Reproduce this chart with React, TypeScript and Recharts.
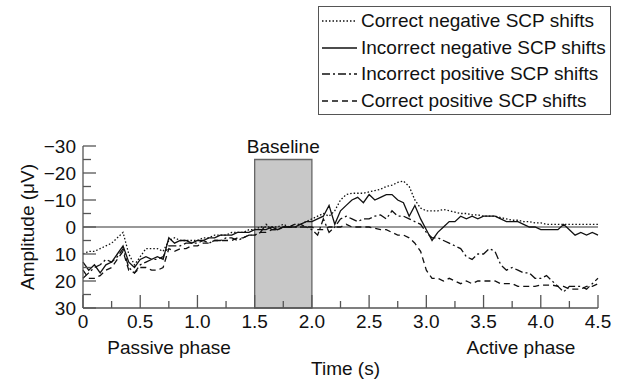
import React from 'react';
import { LineChart, Line, XAxis, YAxis, ReferenceArea, ReferenceLine, Legend } from 'recharts';

const TIME = [
  0, 0.05, 0.1, 0.15, 0.2, 0.25, 0.3, 0.35, 0.4, 0.45,
  0.5, 0.55, 0.6, 0.65, 0.7, 0.75, 0.8, 0.85, 0.9, 0.95,
  1.0, 1.05, 1.1, 1.15, 1.2, 1.25, 1.3, 1.35, 1.4, 1.45,
  1.5, 1.55, 1.6, 1.65, 1.7, 1.75, 1.8, 1.85, 1.9, 1.95,
  2.0, 2.05, 2.1, 2.15, 2.2, 2.25, 2.3, 2.35, 2.4, 2.45,
  2.5, 2.55, 2.6, 2.65, 2.7, 2.75, 2.8, 2.85, 2.9, 2.95,
  3.0, 3.05, 3.1, 3.15, 3.2, 3.25, 3.3, 3.35, 3.4, 3.45,
  3.5, 3.55, 3.6, 3.65, 3.7, 3.75, 3.8, 3.85, 3.9, 3.95,
  4.0, 4.05, 4.1, 4.15, 4.2, 4.25, 4.3, 4.35, 4.4, 4.45,
  4.5,
];

// amplitude in µV (negative is up)
const CORRECT_NEG = [
  10, 9, 9, 8, 7, 6, 4, 2, 10, 14,
  11, 8, 8, 8, 9, 5, 4, 5, 5, 5,
  5, 4, 4, 3, 3, 3, 2, 2, 2, 1,
  1, 0, 0, 0, 0, -1, 0, -1, -1, -2,
  -3, -4, -5, -4, -6, -10, -12, -12.5, -12.5, -12.5,
  -13, -13.5, -14, -15, -15.5, -16.5, -17, -15, -10, -7,
  -6, -6, -6, -6.5, -6, -5.5, -5, -5, -4.5, -4.5,
  -4, -4, -4, -3.5, -3, -2.5, -2.5, -2, -2, -1.5,
  -1.5, -1, -1, -1, -1, -1, -1, -1, -1, -1,
  -1,
];
const INCORRECT_NEG = [
  13, 16, 14, 17, 14, 13, 10, 7, 13, 15,
  12, 11, 12, 11, 12, 4, 6, 5, 5, 6,
  5, 5, 4, 4, 3, 3, 3, 2, 2, 2,
  1, 1, 1, 0, 1, 0, 0, 0, -1, -2,
  -2, -3, -4, -8, -1, -6, -8, -10, -11, -9,
  -12, -10, -11, -12, -12, -10, -9, -4, -8, -3,
  1, 5, 2, 0, -2, -2, -4, -3, -4, -3,
  -4, -4, -4, -3, -2, -2, -2, -1, 0, 0,
  1, 1, 1, 1, -1, 1, 3, 2, 3, 2,
  3,
];
const INCORRECT_POS = [
  19, 17, 15, 14, 12, 13, 11, 8, 15, 17,
  14, 13, 12, 12, 11, 7, 7, 7, 6, 6,
  6, 5, 6, 5, 5, 4, 4, 5, 4, 3,
  3, 2, -1, 1, 1, 0, 0, 0, 0, 0,
  1, 3, -3, 2, 0, -3, -4, -3, -2, -3,
  -3, -4, -4.5, -3, -6, -4, -4, -3, -2, -1,
  2, 4, 4, 5, 6, 7, 8, 11, 12, 10,
  10, 8, 9, 14, 16, 15, 16, 17, 17, 19,
  19, 18, 20, 22, 24, 22, 22, 22, 23, 21,
  19,
];
const CORRECT_POS = [
  16, 19, 19, 18, 16, 15, 12, 9, 16, 17,
  15, 15, 16, 16, 15, 8, 9, 8, 8, 7,
  7, 6, 6, 5, 5, 5, 5, 4, 4, 3,
  3, 2, 2, 1, 1, 0, 0, -1, -1, 0,
  0, 1, 1, 0, 0, 0, -1, 0, 0, 0,
  0, 0.5, 1, 1, 2, 3, 3, 4, 6, 9,
  16, 19, 19, 20, 19, 20, 21, 20, 21, 20,
  20, 20, 20, 21, 21, 21, 22, 22, 22, 22,
  21.5, 21.5, 21.5, 22, 22, 23, 23, 23, 22, 22,
  21,
];

const X_TICKS = [0, 0.25, 0.5, 0.75, 1, 1.25, 1.5, 1.75, 2, 2.25, 2.5, 2.75, 3, 3.25, 3.5, 3.75, 4, 4.25, 4.5];
const Y_TICKS = [-30, -25, -20, -15, -10, -5, 0, 5, 10, 15, 20, 25, 30];

const SERIES = [
  { key: 'cn', name: 'Correct negative SCP shifts', dash: '1.5 2' },
  { key: 'in', name: 'Incorrect negative SCP shifts', dash: undefined },
  { key: 'ip', name: 'Incorrect positive SCP shifts', dash: '8 3 2 3' },
  { key: 'cp', name: 'Correct positive SCP shifts', dash: '6 4' },
];

const data = TIME.map((t, i) => ({
  t,
  cn: CORRECT_NEG[i],
  in: INCORRECT_NEG[i],
  ip: INCORRECT_POS[i],
  cp: CORRECT_POS[i],
}));

const INK = '#111';
const AXIS = '#555';
const FONT = 19;

const XTick = (props: any) => {
  const { x, y, payload } = props;
  const v = payload.value;
  const major = Math.abs(v * 2 - Math.round(v * 2)) < 1e-6;
  return (
    <g>
      <line x1={x} x2={x} y1={y} y2={y - (major ? 13 : 7)} stroke={AXIS} strokeWidth={1.3} />
      {major && (
        <text x={x} y={y + 20} textAnchor="middle" fill={INK} fontSize={FONT}>
          {v === 0 ? '0' : v.toFixed(1)}
        </text>
      )}
    </g>
  );
};

const YTick = (props: any) => {
  const { x, y, payload } = props;
  const v = payload.value;
  const major = v % 10 === 0;
  return (
    <g>
      <line x1={x} x2={x + (major ? 13 : 8)} y1={y} y2={y} stroke={AXIS} strokeWidth={1.3} />
      {major && (
        <text x={x - 7} y={y + 7} textAnchor="end" fill={INK} fontSize={FONT}>
          {v < 0 ? '\u2212' + Math.abs(v) : v}
        </text>
      )}
    </g>
  );
};

const YLabel = (props: any) => {
  const { x, y, height } = props.viewBox;
  const cx = x + 4;
  const cy = y + height / 2;
  return (
    <text x={cx} y={cy} transform={`rotate(-90, ${cx}, ${cy})`} textAnchor="middle" dominantBaseline="central" fill={INK} fontSize={FONT}>
      Amplitude (μV)
    </text>
  );
};

const XLabels = (props: any) => {
  const { x, y, width } = props.viewBox;
  return (
    <g fill={INK} fontSize={FONT}>
      <text x={x + 86} y={y + 46} textAnchor="middle">Passive phase</text>
      <text x={x + width - 77} y={y + 46} textAnchor="middle">Active phase</text>
      <text x={x + width / 2 + 5} y={y + 67} textAnchor="middle">Time (s)</text>
    </g>
  );
};

const LegendBox = () => (
  <div style={{ border: `1.5px solid ${AXIS}`, background: '#fff', width: 293, boxSizing: 'border-box', paddingTop: 1 }}>
    {SERIES.map((s) => (
      <div key={s.key} style={{ display: 'flex', alignItems: 'center', height: 26.5, fontSize: FONT, color: INK }}>
        <svg width={42} height={10}>
          <line x1={3} x2={38} y1={5} y2={5} stroke={INK} strokeWidth={1.3} strokeDasharray={s.dash} />
        </svg>
        <span>{s.name}</span>
      </div>
    ))}
  </div>
);

export default function App() {
  return (
    <div style={{ position: 'absolute', left: 0, top: 0, background: '#fff', fontFamily: '"Liberation Sans", Arial, sans-serif' }}>
      <LineChart width={619} height={382} data={data} margin={{ top: 146, right: 21, bottom: 44, left: 23 }}>
        <XAxis
          dataKey="t"
          type="number"
          domain={[0, 4.5]}
          ticks={X_TICKS}
          interval={0}
          height={30}
          tickSize={0}
          tickMargin={0}
          tickLine={false}
          tick={<XTick />}
          axisLine={{ stroke: AXIS, strokeWidth: 1.3 }}
          label={<XLabels />}
        />
        <YAxis
          type="number"
          domain={[-30, 30]}
          reversed
          ticks={Y_TICKS}
          interval={0}
          width={60}
          tickSize={0}
          tickMargin={0}
          tickLine={false}
          tick={<YTick />}
          axisLine={{ stroke: AXIS, strokeWidth: 1.3 }}
          label={<YLabel />}
        />
        <ReferenceArea
          x1={1.5}
          x2={2.0}
          y1={-25}
          y2={30}
          fill="#c8c8c8"
          fillOpacity={1}
          stroke="#666"
          strokeWidth={1.3}
          label={{ value: 'Baseline', position: 'top', offset: 7, fill: INK, fontSize: FONT }}
        />
        <ReferenceLine y={0} stroke="#333" strokeWidth={1.2} />
        {SERIES.map((s) => (
          <Line
            key={s.key}
            dataKey={s.key}
            name={s.name}
            type="linear"
            stroke={INK}
            strokeWidth={1.3}
            strokeDasharray={s.dash}
            dot={false}
            isAnimationActive={false}
          />
        ))}
        <Legend
          layout="vertical"
          align="center"
          verticalAlign="middle"
          content={<LegendBox />}
          wrapperStyle={{ top: 6, left: 318, width: 293 }}
        />
      </LineChart>
    </div>
  );
}
